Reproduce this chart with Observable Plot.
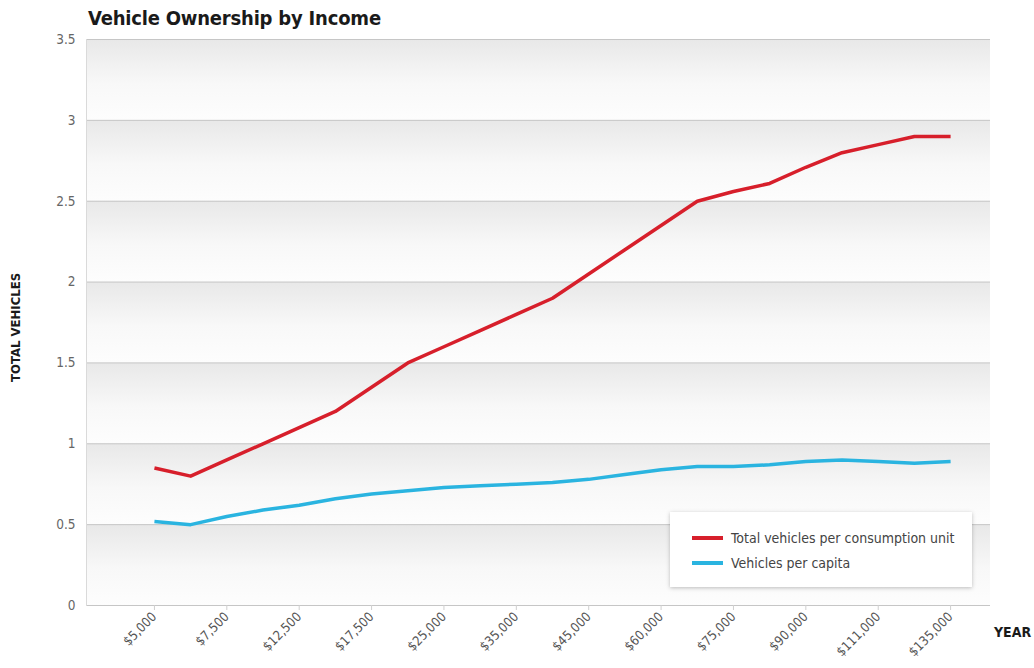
<!DOCTYPE html>
<html>
<head>
<meta charset="utf-8">
<script src="https://cdn.jsdelivr.net/npm/d3@7"></script>
<script src="https://cdn.jsdelivr.net/npm/@observablehq/plot@0.6"></script>
<style>
  html, body { margin: 0; padding: 0; background: #fff; }
  #wrap { position: relative; width: 1034px; height: 668px; overflow: hidden; }
  .title { position: absolute; left: 88px; top: 6px; font-family: "DejaVu Sans Condensed", "DejaVu Sans", sans-serif; font-stretch: condensed; font-weight: bold; font-size: 20px; color: #1a1a1a; letter-spacing: -0.2px; }
  .ylab { position: absolute; left: 8px; transform: rotate(-90deg); transform-origin: 0 0; font-family: "DejaVu Sans Condensed", "DejaVu Sans", sans-serif; font-stretch: condensed; font-weight: bold; font-size: 13px; color: #1a1a1a; white-space: nowrap; }
  .xlab { position: absolute; left: 994px; top: 624px; font-family: "DejaVu Sans Condensed", "DejaVu Sans", sans-serif; font-stretch: condensed; font-weight: bold; font-size: 14px; color: #1a1a1a; }
  .legend { position: absolute; left: 670px; top: 512px; width: 302px; height: 75px; background: #fff; box-shadow: 0 1px 4px rgba(0,0,0,0.25); font-family: "Liberation Sans Narrow", "DejaVu Sans Condensed", sans-serif; font-stretch: condensed; font-size: 14px; color: #444; }
  .legend .row { position: absolute; left: 22px; display: flex; align-items: center; }
  .legend .sw { width: 31px; height: 4px; margin-right: 8px; }
</style>
</head>
<body>
<div id="wrap">
  <div id="chart"></div>
  <div class="title">Vehicle Ownership by Income</div>
  <div class="ylab" style="top:382px">TOTAL VEHICLES</div>
  <div class="xlab">YEAR</div>
  <div class="legend" id="legend"></div>
</div>
<script>
// Income categories (every other one labelled on the axis)
const categories = ["$5,000","$6,000","$7,500","$10,000","$12,500","$15,000","$17,500","$20,000","$25,000","$30,000","$35,000","$40,000","$45,000","$50,000","$60,000","$70,000","$75,000","$80,000","$90,000","$100,000","$111,000","$120,000","$135,000"];
const tickLabels = ["$5,000","$7,500","$12,500","$17,500","$25,000","$35,000","$45,000","$60,000","$75,000","$90,000","$111,000","$135,000"];
const totalPerUnit = [0.85,0.80,0.90,1.00,1.10,1.20,1.35,1.50,1.60,1.70,1.80,1.90,2.05,2.20,2.35,2.50,2.56,2.61,2.71,2.80,2.85,2.90,2.90];
const perCapita = [0.52,0.50,0.55,0.59,0.62,0.66,0.69,0.71,0.73,0.74,0.75,0.76,0.78,0.81,0.84,0.86,0.86,0.87,0.89,0.90,0.89,0.88,0.89];
const yTicks = [0,0.5,1,1.5,2,2.5,3,3.5];
const seriesNames = ["Total vehicles per consumption unit","Vehicles per capita"];
const seriesColors = ["#d71f2b","#2ab4e0"];

const rows = [];
categories.forEach((c,i) => {
  rows.push({income: c, value: totalPerUnit[i], series: seriesNames[0]});
  rows.push({income: c, value: perCapita[i], series: seriesNames[1]});
});
const bands = yTicks.slice(0,-1).map((t,i) => ({y1: t, y2: yTicks[i+1]}));

const condensed = "'Liberation Sans Narrow', 'DejaVu Sans Condensed', sans-serif";

const chart = Plot.plot({
  width: 1034,
  height: 668,
  marginLeft: 86,
  marginRight: 44,
  marginTop: 39,
  marginBottom: 63,
  style: {fontFamily: condensed, background: "transparent"},
  x: {type: "point", domain: categories, padding: 1.49, align: 0.63, round: false},
  y: {domain: [0, 3.5]},
  color: {domain: seriesNames, range: seriesColors},
  marks: [
    Plot.rect(bands, {y1: "y1", y2: "y2", fill: "url(#bandGrad)"}),
    Plot.ruleY(yTicks, {stroke: "#c6c6c6", strokeWidth: 1}),
    Plot.frame({anchor: "left", stroke: "#dadada"}),
    Plot.axisY({ticks: yTicks, tickFormat: d => String(d), tickSize: 0, tickPadding: 11, fontSize: 13.5, fill: "#666", label: null}),
    Plot.axisX({ticks: tickLabels, tickRotate: -45, tickSize: 5, tickPadding: 4, stroke: "#cfcfcf", fontSize: 13, fill: "#555", label: null}),
    Plot.lineY(rows, {x: "income", y: "value", z: "series", stroke: "series", strokeWidth: 3.5, strokeLinejoin: "round", strokeLinecap: "butt"})
  ]
});

const svg = d3.select(chart);
const defs = svg.insert("defs", ":first-child");
const g = defs.append("linearGradient").attr("id", "bandGrad").attr("x1", 0).attr("y1", 0).attr("x2", 0).attr("y2", 1);
g.append("stop").attr("offset", "0%").attr("stop-color", "#e8e8e8");
g.append("stop").attr("offset", "55%").attr("stop-color", "#f8f8f8");
g.append("stop").attr("offset", "100%").attr("stop-color", "#fdfdfd");

document.getElementById("chart").appendChild(chart);

const legend = document.getElementById("legend");
seriesNames.forEach((name, i) => {
  const row = document.createElement("div");
  row.className = "row";
  row.style.top = (18 + i * 25) + "px";
  const sw = document.createElement("div");
  sw.className = "sw";
  sw.style.background = seriesColors[i];
  const tx = document.createElement("span");
  tx.textContent = name;
  row.appendChild(sw);
  row.appendChild(tx);
  legend.appendChild(row);
});
</script>
</body>
</html>
